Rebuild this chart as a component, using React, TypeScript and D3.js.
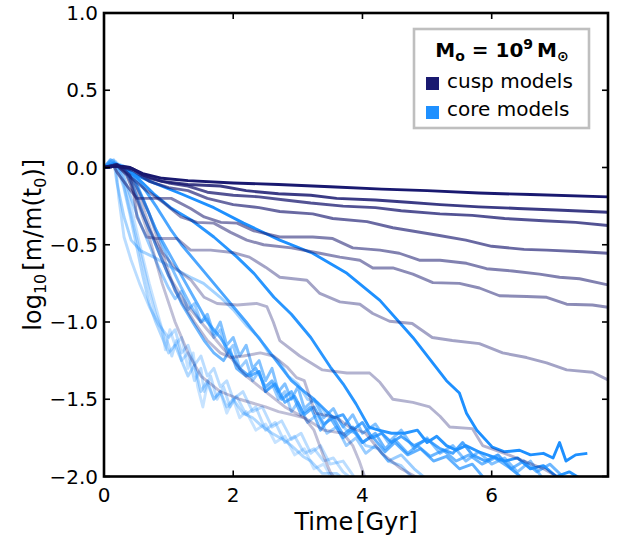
import React from 'react';
import * as d3 from 'd3';

const xTicks = [0, 2, 4, 6];
const yTicks = [1.0, 0.5, 0.0, -0.5, -1.0, -1.5, -2.0];
const legendLabels = ['cusp models', 'core models'];

// cusp models (time [Gyr], log10 m/m0)
const cusp1 = [[0,0],[0.2,0.01],[0.4,0.0],[0.6,-0.04],[0.9,-0.07],[1.3,-0.085],[2.0,-0.1],[2.7,-0.11],[3.5,-0.125],[4.3,-0.14],[5.0,-0.15],[5.8,-0.165],[6.6,-0.175],[7.8,-0.19]];
const cusp2 = [[0,0],[0.2,0.01],[0.4,0],[0.6,-0.05],[0.9,-0.09],[1.3,-0.11],[1.8,-0.12],[2.2,-0.15],[2.7,-0.17],[3.2,-0.18],[3.6,-0.2],[4.2,-0.21],[4.7,-0.225],[5.2,-0.24],[5.8,-0.255],[6.4,-0.265],[7.0,-0.275],[7.8,-0.29]];
const cusp3 = [[0,0],[0.2,0.01],[0.45,-0.01],[0.7,-0.07],[1.0,-0.1],[1.3,-0.12],[1.6,-0.16],[2.0,-0.18],[2.4,-0.19],[2.8,-0.21],[3.2,-0.23],[3.7,-0.25],[4.2,-0.26],[4.6,-0.28],[5.2,-0.3],[5.7,-0.31],[6.2,-0.33],[6.8,-0.345],[7.3,-0.355],[7.8,-0.375]];
const cusp4 = [[0,0],[0.2,0.01],[0.45,-0.02],[0.7,-0.09],[1.0,-0.13],[1.3,-0.15],[1.6,-0.2],[2.0,-0.24],[2.4,-0.26],[2.72,-0.285],[3.23,-0.3],[3.54,-0.33],[4.07,-0.35],[4.47,-0.39],[5.19,-0.44],[5.6,-0.47],[6.0,-0.51],[6.5,-0.53],[6.85,-0.535],[7.4,-0.545],[7.8,-0.555]];
const cusp5 = [[0,0],[0.15,0.01],[0.2,-0.03],[0.36,-0.12],[0.51,-0.2],[1.04,-0.2],[1.34,-0.265],[1.55,-0.32],[1.81,-0.355],[2.06,-0.36],[2.32,-0.41],[2.72,-0.45],[3.23,-0.45],[3.54,-0.46],[3.85,-0.52],[4.27,-0.535],[4.57,-0.555],[4.88,-0.6],[5.2,-0.6],[5.61,-0.62],[5.92,-0.655],[6.32,-0.67],[6.74,-0.69],[7.05,-0.71],[7.36,-0.72],[7.8,-0.76]];
const cusp6 = [[0,0],[0.2,0.01],[0.42,-0.065],[0.66,-0.15],[0.93,-0.23],[1.19,-0.32],[1.44,-0.355],[1.7,-0.36],[1.96,-0.42],[2.21,-0.47],[2.47,-0.5],[2.9,-0.52],[3.34,-0.555],[3.65,-0.58],[3.96,-0.6],[4.16,-0.65],[4.47,-0.65],[4.78,-0.69],[5.09,-0.745],[5.5,-0.75],[5.81,-0.78],[6.12,-0.83],[6.54,-0.835],[6.85,-0.84],[7.16,-0.885],[7.56,-0.89],[7.8,-0.905]];
const cusp7 = [[0,0],[0.2,0.02],[0.4,-0.05],[0.46,-0.17],[0.51,-0.32],[0.66,-0.45],[0.82,-0.46],[1.13,-0.46],[1.34,-0.535],[1.65,-0.535],[1.99,-0.55],[2.25,-0.58],[2.5,-0.645],[2.72,-0.71],[3.14,-0.73],[3.34,-0.815],[3.65,-0.87],[3.96,-0.885],[4.16,-0.945],[4.42,-0.995],[4.77,-1.01],[5.08,-1.1],[5.39,-1.12],[5.81,-1.14],[6.17,-1.2],[6.54,-1.23],[6.85,-1.265],[7.16,-1.31],[7.56,-1.325],[7.8,-1.375]];
const cusp8 = [[0,0],[0.2,0.02],[0.35,-0.05],[0.5,-0.2],[0.7,-0.4],[0.9,-0.55],[1.1,-0.65],[1.35,-0.73],[1.55,-0.84],[1.75,-0.88],[2.06,-0.89],[2.36,-0.88],[2.52,-0.9],[2.62,-1.0],[2.72,-1.12],[3.03,-1.22],[3.38,-1.31],[3.76,-1.33],[4.11,-1.33],[4.27,-1.39],[4.47,-1.5],[4.78,-1.52],[5.04,-1.55],[5.2,-1.61],[5.35,-1.68],[5.7,-1.69],[5.86,-1.8],[6.2,-1.85],[6.5,-1.9],[6.8,-1.95],[7.1,-2.02]];
const cusp9 = [[0,0],[0.2,0.02],[0.35,-0.03],[0.5,-0.12],[0.7,-0.3],[0.9,-0.55],[1.1,-0.8],[1.4,-1.0],[1.6,-1.12],[1.8,-1.2],[1.96,-1.23],[2.16,-1.22],[2.42,-1.2],[2.62,-1.22],[2.83,-1.29],[2.98,-1.36],[3.1,-1.38],[3.27,-1.59],[3.6,-1.62],[3.8,-1.68],[4.05,-1.72],[4.3,-1.85],[4.6,-1.95],[4.9,-2.02]];
const cusp10 = [[0,0],[0.2,0.02],[0.35,-0.05],[0.5,-0.2],[0.7,-0.45],[0.9,-0.75],[1.1,-1.0],[1.3,-1.2],[1.5,-1.35],[1.8,-1.45],[2.1,-1.5],[2.5,-1.55],[2.7,-1.58],[2.9,-1.6],[3.1,-1.62],[3.25,-1.7],[3.4,-1.87],[3.5,-1.97],[3.6,-2.03]];
const cusp11 = [[0,0],[0.2,0.02],[0.4,-0.05],[0.6,-0.25],[0.8,-0.5],[1.0,-0.7],[1.3,-0.9],[1.6,-1.05],[1.9,-1.2],[2.2,-1.35],[2.5,-1.45],[2.8,-1.55],[3.1,-1.62],[3.4,-1.7],[3.7,-1.72],[3.85,-1.8],[3.95,-1.9],[4.05,-2.02]];

// core models
const core1 = [[0,0],[0.15,0.02],[0.31,0.0],[0.5,-0.05],[0.77,-0.1],[1.19,-0.17],[1.7,-0.26],[2.16,-0.36],[2.72,-0.47],[3.23,-0.555],[3.76,-0.685],[4.27,-0.86],[4.78,-1.1],[5.3,-1.38],[5.5,-1.46],[5.61,-1.59],[5.77,-1.7],[6.01,-1.81],[6.2,-1.84],[6.43,-1.83],[6.6,-1.86],[6.8,-1.85],[6.95,-1.88],[7.05,-1.78],[7.15,-1.9],[7.3,-1.86],[7.48,-1.85]];
const core2 = [[0,0],[0.15,0.02],[0.31,0.0],[0.5,-0.06],[0.77,-0.17],[1.03,-0.26],[1.35,-0.34],[1.7,-0.45],[2.06,-0.58],[2.32,-0.685],[2.63,-0.84],[2.9,-0.95],[3.2,-1.1],[3.5,-1.29],[3.7,-1.4],[3.9,-1.53],[4.1,-1.68],[4.25,-1.7],[4.45,-1.72],[4.65,-1.72],[4.85,-1.7],[5.0,-1.78],[5.15,-1.74],[5.3,-1.8],[5.45,-1.83],[5.6,-1.8],[5.8,-1.84],[6.0,-1.87],[6.2,-1.9],[6.4,-1.88],[6.6,-1.95],[6.8,-1.93],[7.0,-2.0],[7.2,-1.97],[7.4,-2.02]];
const core3 = [[0,0],[0.15,0.02],[0.35,0.0],[0.5,-0.07],[0.66,-0.16],[0.82,-0.26],[1.03,-0.4],[1.2,-0.5],[1.5,-0.65],[1.7,-0.75],[1.9,-0.85],[2.2,-1.0],[2.5,-1.16],[2.7,-1.27],[2.9,-1.38],[3.1,-1.45],[3.25,-1.5],[3.4,-1.56],[3.55,-1.62],[3.7,-1.6],[3.85,-1.7],[4.0,-1.65],[4.15,-1.75],[4.3,-1.72],[4.45,-1.78],[4.6,-1.74],[4.8,-1.8],[5.0,-1.76],[5.2,-1.82],[5.4,-1.85],[5.55,-1.78],[5.7,-1.86],[5.9,-1.9],[6.1,-1.86],[6.3,-1.95],[6.5,-2.02]];
const core4 = [[0,0],[0.15,0.02],[0.35,0.0],[0.5,-0.1],[0.65,-0.25],[0.8,-0.4],[1.0,-0.55],[1.2,-0.7],[1.4,-0.85],[1.6,-1.0],[1.8,-1.1],[1.95,-1.2],[2.1,-1.3],[2.25,-1.35],[2.4,-1.32],[2.5,-1.45],[2.65,-1.4],[2.8,-1.52],[2.95,-1.48],[3.1,-1.6],[3.25,-1.55],[3.4,-1.66],[3.55,-1.62],[3.7,-1.73],[3.85,-1.68],[4.0,-1.78],[4.15,-1.74],[4.35,-1.84],[4.5,-1.78],[4.7,-1.86],[4.9,-1.82],[5.1,-1.9],[5.3,-1.87],[5.5,-1.95],[5.7,-1.92],[5.9,-2.02]];
const core5 = [[0,0],[0.15,0.03],[0.3,0.0],[0.45,-0.12],[0.6,-0.3],[0.8,-0.5],[1.0,-0.7],[1.2,-0.88],[1.4,-1.02],[1.55,-1.12],[1.7,-1.2],[1.85,-1.25],[1.95,-1.18],[2.05,-1.3],[2.2,-1.35],[2.35,-1.3],[2.5,-1.42],[2.6,-1.38],[2.75,-1.5],[2.9,-1.45],[3.05,-1.6],[3.2,-1.55],[3.35,-1.7],[3.5,-1.62],[3.7,-1.75],[3.85,-1.7],[4.0,-1.78],[4.2,-1.72],[4.35,-1.82],[4.5,-1.76],[4.7,-1.85],[4.85,-1.8],[5.05,-1.87],[5.25,-1.83],[5.45,-1.9],[5.65,-1.86],[5.85,-1.92],[6.05,-1.88],[6.3,-1.95],[6.5,-1.9],[6.7,-1.97],[6.9,-1.92],[7.1,-2.0]];
const core6 = [[0,0],[0.15,0.03],[0.3,0.01],[0.45,-0.08],[0.6,-0.2],[0.75,-0.35],[0.9,-0.5],[1.05,-0.65],[1.2,-0.78],[1.35,-0.9],[1.5,-1.0],[1.6,-0.95],[1.7,-1.08],[1.8,-1.0],[1.9,-1.15],[2.0,-1.1],[2.1,-1.22],[2.2,-1.15],[2.3,-1.3],[2.4,-1.25],[2.5,-1.38],[2.6,-1.3],[2.7,-1.45],[2.8,-1.4],[2.9,-1.5],[3.0,-1.42],[3.1,-1.56],[3.25,-1.5],[3.4,-1.62],[3.55,-1.56],[3.7,-1.68],[3.85,-1.6],[4.0,-1.72],[4.2,-1.66],[4.4,-1.78],[4.6,-1.7],[4.8,-1.82],[5.0,-1.75],[5.2,-1.85],[5.4,-1.8],[5.6,-1.9],[5.8,-1.84],[6.0,-1.92],[6.2,-1.88],[6.4,-1.97],[6.6,-1.9],[6.8,-2.02]];
const core7 = [[0,0],[0.1,0.03],[0.2,0.02],[0.3,-0.05],[0.42,-0.2],[0.55,-0.35],[0.7,-0.5],[0.85,-0.65],[1.0,-0.78],[1.1,-0.85],[1.2,-0.8],[1.3,-0.92],[1.4,-0.88],[1.5,-1.0],[1.6,-0.98],[1.7,-1.1],[1.8,-1.05],[1.9,-1.2],[2.0,-1.15],[2.1,-1.3],[2.2,-1.25],[2.3,-1.38],[2.4,-1.32],[2.5,-1.45],[2.6,-1.4],[2.7,-1.5],[2.8,-1.45],[2.9,-1.58],[3.0,-1.52],[3.15,-1.65],[3.3,-1.6],[3.45,-1.72],[3.6,-1.68],[3.75,-1.8],[3.9,-1.75],[4.05,-1.85],[4.2,-1.8],[4.4,-1.9],[4.6,-1.86],[4.8,-1.95],[5.0,-2.02]];
const core8 = [[0,0],[0.1,0.04],[0.15,0.05],[0.2,-0.1],[0.31,-0.32],[0.42,-0.47],[0.57,-0.54],[0.77,-0.58],[1.04,-0.645],[1.34,-0.71],[1.54,-0.75],[1.8,-0.84],[2.0,-0.92],[2.2,-1.02],[2.4,-1.1],[2.55,-1.2],[2.7,-1.25],[2.85,-1.35],[3.0,-1.4],[3.15,-1.5],[3.3,-1.52],[3.45,-1.6],[3.6,-1.62],[3.75,-1.7],[3.9,-1.72],[4.05,-1.8],[4.25,-1.82],[4.4,-1.9],[4.6,-1.93],[4.8,-2.02]];
const core9 = [[0,0],[0.1,0.04],[0.2,0.0],[0.3,-0.12],[0.4,-0.3],[0.5,-0.5],[0.6,-0.7],[0.7,-0.88],[0.8,-1.0],[0.9,-1.1],[1.0,-1.2],[1.1,-1.15],[1.2,-1.25],[1.3,-1.35],[1.4,-1.28],[1.5,-1.45],[1.6,-1.38],[1.7,-1.5],[1.8,-1.45],[1.9,-1.55],[2.0,-1.5],[2.15,-1.59],[2.3,-1.62],[2.46,-1.68],[2.6,-1.72],[2.77,-1.76],[2.9,-1.8],[3.08,-1.87],[3.2,-1.9],[3.38,-1.98],[3.6,-1.98],[3.75,-2.03]];
const core10 = [[0,0],[0.1,0.05],[0.2,0.02],[0.3,-0.1],[0.4,-0.28],[0.5,-0.45],[0.6,-0.62],[0.7,-0.8],[0.8,-0.95],[0.9,-1.05],[1.0,-1.15],[1.05,-1.22],[1.12,-1.12],[1.2,-1.25],[1.3,-1.2],[1.4,-1.38],[1.5,-1.3],[1.55,-1.45],[1.65,-1.35],[1.75,-1.5],[1.85,-1.42],[1.95,-1.55],[2.05,-1.48],[2.2,-1.6],[2.35,-1.55],[2.5,-1.7],[2.65,-1.65],[2.8,-1.78],[2.95,-1.74],[3.1,-1.85],[3.25,-1.82],[3.4,-1.9],[3.55,-1.88],[3.7,-1.97],[3.85,-2.02]];
const core11 = [[0,0],[0.1,0.05],[0.2,0.03],[0.3,-0.08],[0.4,-0.22],[0.5,-0.4],[0.6,-0.58],[0.7,-0.75],[0.8,-0.9],[0.9,-1.05],[0.95,-1.18],[1.02,-1.05],[1.1,-1.15],[1.2,-1.1],[1.3,-1.3],[1.38,-1.2],[1.45,-1.42],[1.53,-1.55],[1.6,-1.4],[1.7,-1.5],[1.8,-1.45],[1.9,-1.59],[2.0,-1.5],[2.1,-1.62],[2.2,-1.58],[2.35,-1.7],[2.5,-1.66],[2.65,-1.78],[2.8,-1.74],[2.95,-1.86],[3.1,-1.82],[3.25,-1.95],[3.4,-1.92],[3.55,-2.03]];
const core12 = [[0,0],[0.1,0.05],[0.18,0.04],[0.23,-0.2],[0.31,-0.45],[0.42,-0.6],[0.55,-0.75],[0.7,-0.9],[0.85,-1.02],[1.0,-1.1],[1.1,-1.05],[1.2,-1.2],[1.3,-1.15],[1.4,-1.28],[1.5,-1.22],[1.6,-1.35],[1.7,-1.3],[1.8,-1.42],[1.9,-1.38],[2.0,-1.5],[2.15,-1.45],[2.3,-1.58],[2.45,-1.55],[2.6,-1.68],[2.75,-1.64],[2.9,-1.76],[3.05,-1.72],[3.2,-1.85],[3.35,-1.8],[3.5,-1.92],[3.7,-1.9],[3.9,-2.02]];

const cuspSeries = [cusp1, cusp2, cusp3, cusp4, cusp5, cusp6, cusp7, cusp8, cusp9, cusp10, cusp11];
const coreSeries = [core1, core2, core3, core4, core5, core6, core7, core8, core9, core10, core11, core12];

// styles
const CUSP = '#191970';
const CORE = '#1e90ff';
const cuspAlpha = [1, 0.85, 0.75, 0.65, 0.55, 0.5, 0.4, 0.33, 0.3, 0.28, 0.28];
const coreAlpha = [1, 0.95, 0.8, 0.7, 0.65, 0.55, 0.45, 0.4, 0.35, 0.3, 0.25, 0.3];

const W = 624, H = 537;
const M = { left: 104, right: 608, top: 13, bottom: 476.5 };
const FONT = 'DejaVu Sans, sans-serif';

export default function App() {
  const x = d3.scaleLinear().domain([0, 7.8]).range([M.left, M.right]);
  const y = d3.scaleLinear().domain([-2, 1]).range([M.bottom, M.top]);
  const line = d3.line<number[]>().x(d => x(d[0])).y(d => y(d[1]));
  const fmt = d3.format('.1f');
  const tickLen = 6;

  return (
    <svg width={W} height={H} style={{ position: 'absolute', left: 0, top: 0, background: '#fff' }} fontFamily={FONT}>
      <defs>
        <clipPath id="plotclip">
          <rect x={M.left} y={M.top} width={M.right - M.left} height={M.bottom - M.top} />
        </clipPath>
      </defs>
      <g clipPath="url(#plotclip)" fill="none" strokeWidth={2.9} strokeLinejoin="round" strokeLinecap="butt">
        {coreSeries.map((s, i) => (
          <path key={'core' + i} d={line(s) || ''} stroke={CORE} strokeOpacity={coreAlpha[i]} />
        ))}
        {cuspSeries.map((s, i) => (
          <path key={'cusp' + i} d={line(s) || ''} stroke={CUSP} strokeOpacity={cuspAlpha[i]} />
        ))}
      </g>
      {/* ticks */}
      <g stroke="#000" strokeWidth={1.6}>
        {xTicks.map(t => (
          <g key={'xt' + t}>
            <line x1={x(t)} x2={x(t)} y1={M.bottom} y2={M.bottom - tickLen} />
            <line x1={x(t)} x2={x(t)} y1={M.top} y2={M.top + tickLen} />
          </g>
        ))}
        {yTicks.map(t => (
          <g key={'yt' + t}>
            <line x1={M.left} x2={M.left + tickLen} y1={y(t)} y2={y(t)} />
            <line x1={M.right} x2={M.right - tickLen} y1={y(t)} y2={y(t)} />
          </g>
        ))}
      </g>
      <rect x={M.left} y={M.top} width={M.right - M.left} height={M.bottom - M.top} fill="none" stroke="#000" strokeWidth={2.6} />
      {/* tick labels */}
      <g fontSize={20} fill="#000">
        {xTicks.map(t => (
          <text key={'xl' + t} x={x(t)} y={M.bottom + 25} textAnchor="middle">{t}</text>
        ))}
        {yTicks.map(t => (
          <text key={'yl' + t} x={M.left - 6} y={y(t) + 7} textAnchor="end">{fmt(t)}</text>
        ))}
      </g>
      {/* axis labels */}
      <text x={(M.left + M.right) / 2} y={530} textAnchor="middle" fontSize={24} fill="#000">
        Time<tspan dx={3}>[Gyr]</tspan>
      </text>
      <text transform={`translate(41, ${(M.top + M.bottom) / 2}) rotate(-90)`} textAnchor="middle" fontSize={24} fill="#000">
        log<tspan fontSize={16} dy={5}>10</tspan><tspan dy={-5} dx={3}>[m/m(t</tspan><tspan fontSize={16} dy={5}>0</tspan><tspan dy={-5}>)]</tspan>
      </text>
      {/* legend */}
      <g>
        <rect x={414} y={29} width={175} height={99} fill="#fff" stroke="#bfbfbf" strokeWidth={2.6} />
        <text x={502} y={57} textAnchor="middle" fontSize={20} fontWeight="bold" fill="#000">
          M<tspan fontSize={14} dy={4}>o</tspan><tspan dy={-4}> = 10</tspan><tspan fontSize={14} dy={-8}>9</tspan><tspan dy={8} dx={4}>M</tspan><tspan fontSize={14} dy={4}>⊙</tspan>
        </text>
        {legendLabels.map((lab, i) => (
          <g key={lab}>
            <rect x={426} y={77 + i * 29} width={13} height={13} fill={i === 0 ? CUSP : CORE} />
            <text x={447} y={88 + i * 28} fontSize={20} fill="#000">{lab}</text>
          </g>
        ))}
      </g>
    </svg>
  );
}
